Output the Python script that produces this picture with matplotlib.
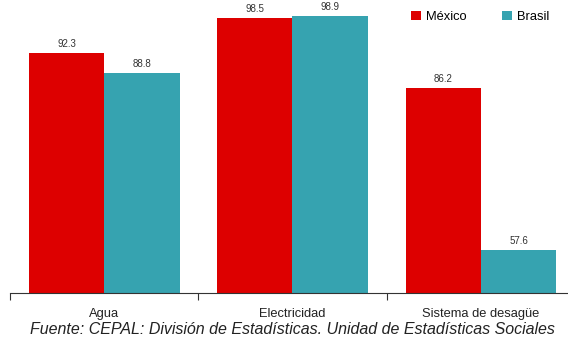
import matplotlib
matplotlib.use("Agg")
import matplotlib.pyplot as plt
import numpy as np

categories = ["Agua", "Electricidad", "Sistema de desagüe"]
mexico = [92.3, 98.5, 86.2]
brasil = [88.8, 98.9, 57.6]
series_names = ["México", "Brasil"]
source = "Fuente: CEPAL: División de Estadísticas. Unidad de Estadísticas Sociales"

plt.rcParams['font.family'] = ['Liberation Sans', 'DejaVu Sans']
red = "#DD0000"
teal = "#36A3B0"

W, H = 568, 339
fig = plt.figure(figsize=(W/100, H/100), dpi=100)
ax = fig.add_axes([10/W, 46/H, 565/W, 293/H])

x = np.arange(len(categories))
bw = 0.4
b1 = ax.bar(x - bw/2, mexico, bw, color=red, label=series_names[0])
b2 = ax.bar(x + bw/2, brasil, bw, color=teal, label=series_names[1])
for bars, vals in ((b1, mexico), (b2, brasil)):
    for b, v in zip(bars, vals):
        ax.annotate(f"{v:.1f}", (b.get_x() + b.get_width()/2, v),
                    xytext=(0, 6.5), textcoords="offset points",
                    ha="center", va="center", fontsize=7, color="#333333")

ax.set_xlim(-0.5, 2.5)
ax.set_ylim(50, 50 + 293/5.673)
for s in ("top", "right", "left"):
    ax.spines[s].set_visible(False)
ax.spines["bottom"].set_color("#333333")
ax.set_yticks([])
ax.set_xticks([-0.5, 0.5, 1.5, 2.5])
ax.set_xticklabels([])
ax.tick_params(axis="x", length=5, color="#333333", direction="out")
for i, c in enumerate(categories):
    ax.text(i, -0.072, c, transform=ax.get_xaxis_transform(), ha="center",
            va="center", fontsize=9.3, color="#222222")

fig.text(292/W, 1 - 329/H, source, ha="center", va="center", fontsize=11.5,
         style="italic", color="#222222")

ax.legend(loc="center left", bbox_to_anchor=(405/W, 1 - 17/H),
          bbox_transform=fig.transFigure, ncol=2, frameon=False,
          fontsize=9.3, handlelength=0.7, handleheight=0.7, handletextpad=0.4,
          columnspacing=2.8, borderpad=0)

fig.savefig("out.png", dpi=100)
